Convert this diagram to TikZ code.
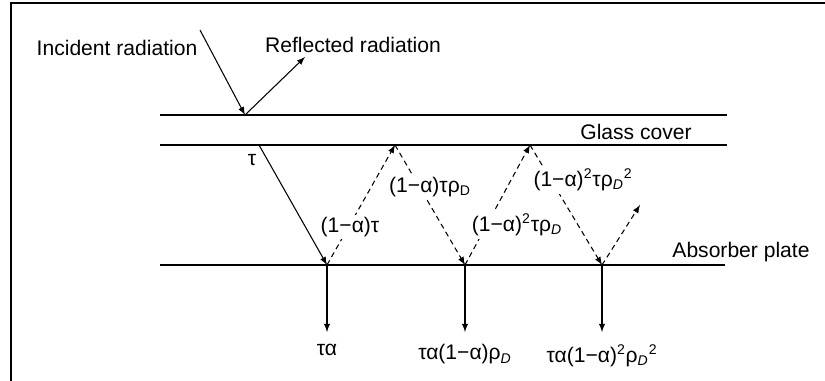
\documentclass[tikz,border=0pt]{standalone}
\usepackage{fontspec}
\setmainfont{Liberation Sans}
\usetikzlibrary{arrows,positioning}
\tikzset{
    ray/.style={->,>=latex,line width=0.6pt},        % solid ray
    dray/.style={ray,dash pattern=on 3pt off 2.2pt}, % reflected ray inside
    cover/.style={line width=0.6pt},                 % glass faces
    plate/.style={line width=1.6pt},                 % absorber
    lbl/.style={font=\fontsize{12}{14}\selectfont,inner sep=1pt},
    mlbl/.style={font=\fontsize{12}{14}\selectfont,inner sep=1.5pt,fill=white}
}
\newcommand{\mn}{\textminus}
\begin{document}
\begin{tikzpicture}[x=0.02cm,y=-0.02cm]
    \useasboundingbox (0,0) rectangle (825,381);
    \draw[line width=1.2pt] (11,381) -- (11,3) -- (825,3);

    % glass cover and absorber plate
    \draw[cover] (160,115) -- (727,115);
    \draw[cover] (160,145) -- (727,145);
    \draw[plate] (160,265) -- (725,265);

    % points where the rays meet the surfaces
    \coordinate (i0) at (200,30);
    \coordinate (h0) at (245,115);
    \coordinate (r0) at (305,57);
    \coordinate (t0) at (259,145);
    \coordinate (a1) at (327,265);
    \coordinate (g1) at (395,145);
    \coordinate (a2) at (465,265);
    \coordinate (g2) at (530,145);
    \coordinate (a3) at (602,265);
    \coordinate (e3) at (640,205);
    \coordinate (b1) at (327,332);
    \coordinate (b2) at (465,332);
    \coordinate (b3) at (602,332);

    \node[lbl] (inc) at (117,48) {Incident radiation};
    \node[lbl] (refl) at (353,45) {Reflected radiation};
    \node[lbl] (glass) at (636,132) {Glass cover};
    \node[lbl] (absorb) at (741,252) {Absorber plate};

    \draw[ray] (i0) -- (h0);
    \draw[ray] (h0) -- (r0);
    \draw[ray] (t0) -- (a1);
    \draw[dray] (a1) -- (g1);
    \draw[dray] (g1) -- (a2);
    \draw[dray] (a2) -- (g2);
    \draw[dray] (g2) -- (a3);
    \draw[dray] (a3) -- (e3);
    \draw[ray] (a1) -- (b1);
    \draw[ray] (a2) -- (b2);
    \draw[ray] (a3) -- (b3);

    \node[lbl] (tau) at (252,160) {τ};
    \node[mlbl] (k1) at (350,227) {(1\mn α)τ};
    \node[mlbl] (k2) at (430,187) {(1\mn α)τρ\textsubscript{D}};
    \node[mlbl] (k3) at (517,225) {(1\mn α)\textsuperscript{2}τρ\textsubscript{\textit{D}}};
    \node[mlbl] (k4) at (583,180) {(1\mn α)\textsuperscript{2}τρ\textsubscript{\textit{D}}\textsuperscript{2}};

    \node[lbl,below=6pt of b1] (q1) {τα};
    \node[lbl,below=6pt of b2] (q2) {τα(1\mn α)ρ\textsubscript{\textit{D}}};
    \node[lbl,below=6pt of b3] (q3) {τα(1\mn α)\textsuperscript{2}ρ\textsubscript{\textit{D}}\textsuperscript{2}};
\end{tikzpicture}
\end{document}
